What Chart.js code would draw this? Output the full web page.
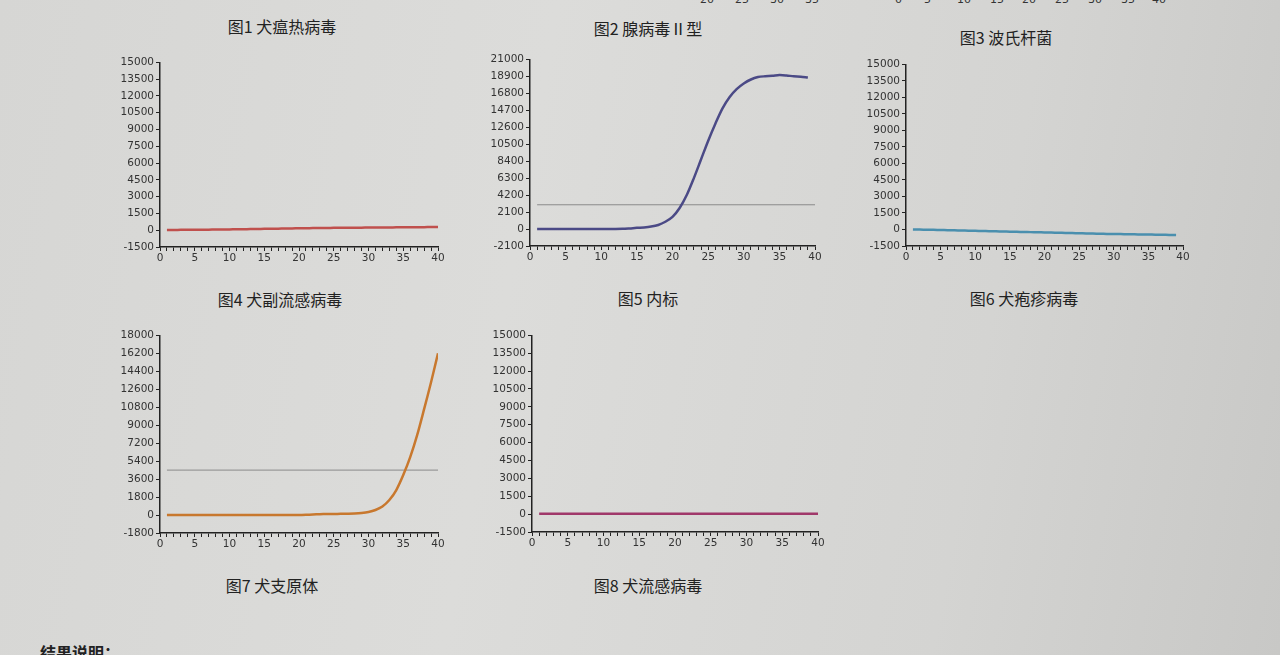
<!DOCTYPE html>
<html><head><meta charset="utf-8">
<script src="https://cdn.jsdelivr.net/npm/chart.js@4"></script>
<style>
body{margin:0;width:1280px;height:655px;overflow:hidden;background:linear-gradient(100deg,#d6d6d4 0%,#dcdcda 40%,#d4d4d2 75%,#c8c8c6 100%);position:relative;font-family:"Noto Sans CJK SC",sans-serif;}
.c{position:absolute;}
.cap{position:absolute;font-size:16px;color:#222;transform:translateX(-50%);white-space:nowrap;}
.topax{position:absolute;font-family:"DejaVu Sans";font-size:11px;color:#333;top:-7px;}
</style></head><body>
<script>
const xs=[1,2,3,4,5,6,7,8,9,10,11,12,13,14,15,16,17,18,19,20,21,22,23,24,25,26,27,28,29,30,31,32,33,34,35,36,37,38,39,40];
const s1=[20,25,30,35,40,45,50,55,60,70,80,90,100,110,120,130,140,150,160,170,180,190,200,205,210,215,220,225,230,235,240,245,250,255,260,265,270,275,280,285];
const s2=[0,0,0,0,0,0,0,0,0,0,0,0,20,80,150,200,300,500,900,1500,2600,4200,6300,8600,10900,13000,14900,16300,17300,18000,18500,18800,18900,18950,19050,19000,18900,18850,18750,null];
const s3=[0,-10,-20,-30,-45,-60,-75,-90,-105,-120,-135,-150,-165,-180,-195,-210,-225,-240,-255,-270,-285,-300,-315,-330,-345,-360,-375,-390,-400,-410,-420,-430,-440,-450,-460,-470,-480,-490,-500,null];
const s4=[0,0,0,0,0,0,0,0,0,0,0,0,0,0,0,0,0,0,0,0,20,50,80,100,110,120,130,150,200,300,500,850,1500,2500,4000,5800,8000,10600,13300,16200];
const s5=[40,40,40,40,40,40,40,40,40,40,40,40,40,40,40,40,40,40,40,40,40,40,40,40,40,40,40,40,40,40,40,40,40,40,40,40,40,40,40,40];
const charts=[
 {pos:[115,54,331,218],data:s1,color:'#c0504d',min:-1500,max:15000,step:1500,th:null},
 {pos:[485,51,338,220],data:s2,color:'#4b4a86',min:-2100,max:21000,step:2100,th:3000},
 {pos:[861,56,330,215],data:s3,color:'#4a8fae',min:-1500,max:15000,step:1500,th:null},
 {pos:[115,327,331,231],data:s4,color:'#c8782e',min:-1800,max:18000,step:1800,th:4500},
 {pos:[487,327,339,230],data:s5,color:'#a0386a',min:-1500,max:15000,step:1500,th:null},
];
const caps=[["图1 犬瘟热病毒",282,14],["图2 腺病毒Ⅱ型",648,16],["图3 波氏杆菌",1006,25],["图4 犬副流感病毒",280,287],["图5 内标",648,286],["图6 犬疱疹病毒",1024,286],["图7 犬支原体",272,573],["图8 犬流感病毒",648,573],["结果说明：",80,640]];
caps.forEach(c=>{const d=document.createElement('div');d.className='cap';d.textContent=c[0];d.style.left=c[1]+'px';d.style.top=c[2]+'px';if(c[0].startsWith('结果'))d.style.fontWeight='bold';document.body.appendChild(d);});
[[895,'0'],[924,'5'],[957,'10'],[990,'15'],[1022,'20'],[1055,'25'],[1088,'30'],[1121,'35'],[1152,'40'],[700,'20'],[735,'25'],[770,'30'],[805,'35']].forEach(t=>{const d=document.createElement('div');d.className='topax';d.textContent=t[1];d.style.left=t[0]+'px';document.body.appendChild(d);});
const tickFont={family:'DejaVu Sans',size:10.5};
charts.forEach(c=>{
 const cv=document.createElement('canvas');cv.className='c';
 const [l,t,w,h]=c.pos;cv.style.left=l+'px';cv.style.top=t+'px';cv.style.width=w+'px';cv.style.height=h+'px';
 document.body.appendChild(cv);
 const ds=[{data:xs.map((x,i)=>({x,y:c.data[i]})),borderColor:c.color,borderWidth:2.5,pointRadius:0,tension:0.3}];
 if(c.th!==null) ds.push({data:[{x:1,y:c.th},{x:40,y:c.th}],borderColor:'#8a8a8a',borderWidth:1,pointRadius:0});
 new Chart(cv,{type:'line',data:{datasets:ds},options:{responsive:false,animation:false,
  layout:{padding:{top:6,right:8,left:0,bottom:0}},
  plugins:{legend:{display:false},tooltip:{enabled:false}},
  scales:{
   x:{type:'linear',min:0,max:40,afterFit:s=>{s.height=25;},
     afterBuildTicks:s=>{s.ticks=[];for(let v=0;v<=40;v++)s.ticks.push({value:v});},
     ticks:{autoSkip:false,maxRotation:0,color:'#333',font:tickFont,padding:1,callback:v=>v%5===0?String(v):''},
     grid:{drawOnChartArea:false,tickLength:4,color:'#222'},border:{color:'#222',width:1.5}},
   y:{min:c.min,max:c.max,afterFit:s=>{s.width=45;},
     ticks:{stepSize:c.step,color:'#333',font:tickFont,padding:2,callback:v=>String(v)},
     grid:{drawOnChartArea:false,tickLength:4,color:'#222'},border:{color:'#222',width:1.5}}
  }}});
});
</script>
</body></html>
